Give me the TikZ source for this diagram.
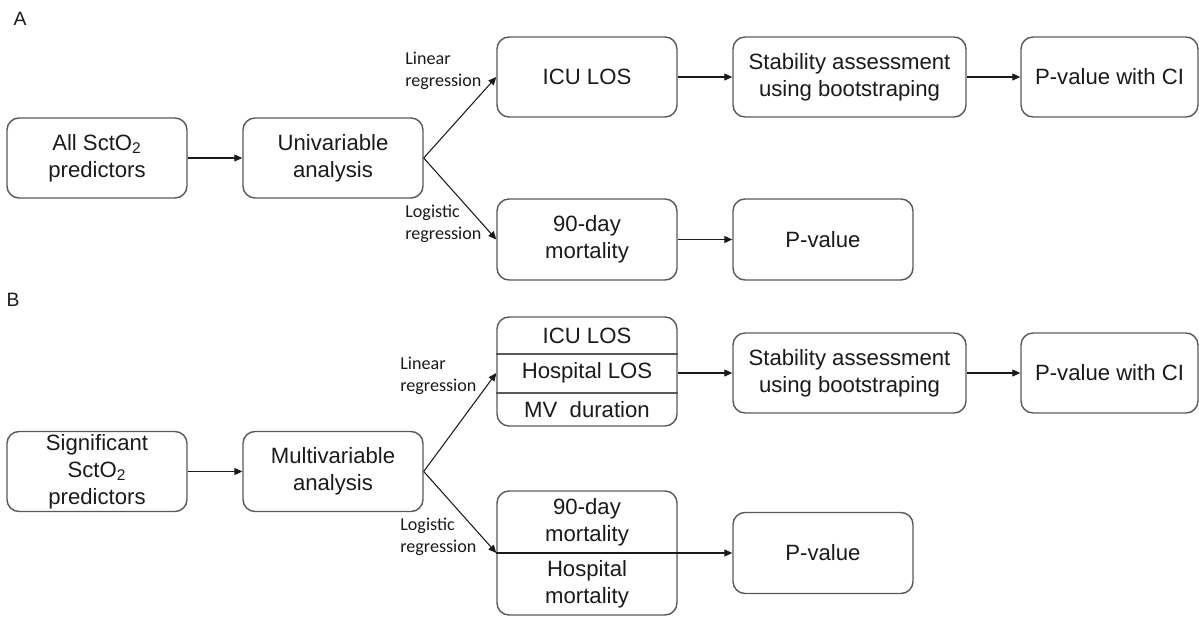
\documentclass[tikz,border=0pt]{standalone}
\usepackage{fontspec}
\setmainfont{Liberation Sans}
\newfontfamily\lblfont{Carlito}
\usetikzlibrary{arrows.meta}
\definecolor{boxline}{HTML}{595959}
\definecolor{ink}{HTML}{1A1A1A}

\begin{document}
\begin{tikzpicture}[
  box/.style={draw=boxline, line width=0.8pt, rounded corners=0.24cm,
    minimum width=3.6cm, minimum height=1.6cm, inner sep=0pt,
    align=center, text=ink, font=\fontsize{12.6}{15.3}\selectfont},
  rowtxt/.style={inner sep=0pt, align=center, text=ink,
    font=\fontsize{12.6}{15.3}\selectfont},
  lbl/.style={anchor=north west, inner sep=0pt, align=left, text=ink,
    font=\lblfont\fontsize{10.3}{12.2}\selectfont},
  flow/.style={-{Triangle[length=1.6mm,width=1.4mm]}, line width=0.6pt, draw=ink},
  cut/.style={draw=boxline, line width=0.8pt}
]
  \useasboundingbox (0,0) rectangle (23.98,12.32);

  % part A: univariable
  \node[text=ink, font=\fontsize{11}{13}\selectfont] (partA) at (0.4,11.94) {A};
  \node[box] (allA) at (1.94,9.16) {All SctO\textsubscript{2}\\predictors};
  \node[box] (uniA) at (6.66,9.16) {Univariable\\analysis};
  \node[box] (icuA) at (11.74,10.78) {ICU LOS};
  \node[box, minimum width=4.66cm] (stabA) at (16.99,10.78) {Stability assessment\\using bootstraping};
  \node[box, minimum width=3.54cm] (pciA) at (22.19,10.78) {P-value with CI};
  \node[box, minimum height=1.62cm] (mortA) at (11.74,7.53) {90-day\\mortality};
  \node[box, minimum height=1.62cm] (pvA) at (16.46,7.53) {P-value};
  \node[lbl] (linA) at (8.1,11.28) {Linear\\regression};
  \node[lbl] (logA) at (8.1,8.22) {Logistic\\regression};

  \draw[flow] (allA) -- (uniA);
  \draw[flow] (uniA.east) -- (icuA.west);
  \draw[flow] (uniA.east) -- (mortA.west);
  \draw[flow] (icuA) -- (stabA);
  \draw[flow] (stabA) -- (pciA);
  \draw[flow] (mortA) -- (pvA);

  % part B: multivariable
  \node[text=ink, font=\fontsize{11}{13}\selectfont] (partB) at (0.26,6.32) {B};
  \node[box] (sigB) at (1.94,2.89) {Significant\\SctO\textsubscript{2}\\predictors};
  \node[box] (multiB) at (6.66,2.89) {Multivariable\\analysis};

  % three outcomes in one box
  \node[box, minimum height=2.18cm] (stackB) at (11.74,4.89) {};
  \coordinate (cutB1) at (0,5.24);
  \coordinate (cutB2) at (0,4.46);
  \draw[cut] (stackB.west |- cutB1) -- (stackB.east |- cutB1);
  \draw[cut] (stackB.west |- cutB2) -- (stackB.east |- cutB2);
  \node[rowtxt] (icuB) at (11.74,5.61) {ICU LOS};
  \node[rowtxt] (hospB) at (11.74,4.86) {Hospital LOS};
  \node[rowtxt] (mvB) at (11.74,4.13) {MV~ duration};

  % two mortality outcomes
  \node[box, minimum height=2.48cm] (mortB) at (11.74,1.26) {};
  \node[rowtxt] (dayB) at (11.74,1.88) {90-day\\mortality};
  \node[rowtxt] (hmortB) at (11.74,0.64) {Hospital\\mortality};

  \node[box, minimum width=4.66cm] (stabB) at (16.99,4.86) {Stability assessment\\using bootstraping};
  \node[box, minimum width=3.54cm] (pciB) at (22.19,4.86) {P-value with CI};
  \node[box, minimum height=1.62cm] (pvB) at (16.46,1.26) {P-value};
  \node[lbl] (linB) at (8.0,5.18) {Linear\\regression};
  \node[lbl] (logB) at (8.0,1.96) {Logistic\\regression};

  \draw[flow] (sigB) -- (multiB);
  \draw[flow] (multiB.east) -- (stackB.west |- hospB);
  \draw[flow] (multiB.east) -- (mortB.west);
  \draw[flow] (stackB.east |- stabB) -- (stabB);
  \draw[flow] (stabB) -- (pciB);
  \draw[ink, line width=0.6pt] (mortB.west) -- (mortB.east);
  \draw[flow] (mortB.east) -- (pvB.west);
\end{tikzpicture}
\end{document}
